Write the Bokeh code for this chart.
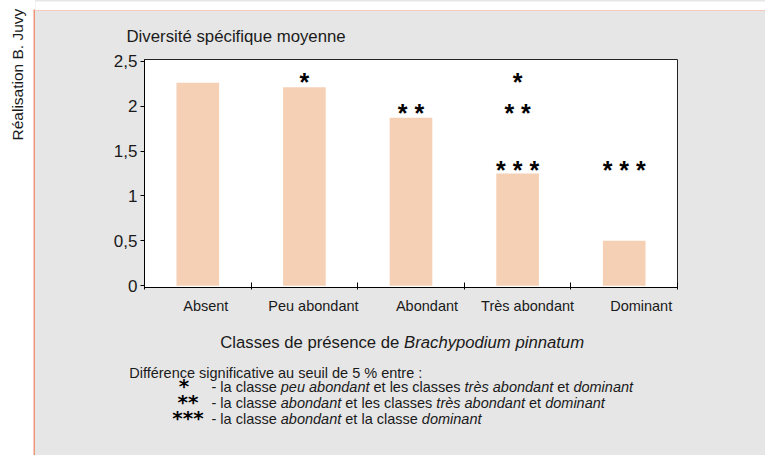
import math
from bokeh.plotting import figure
from bokeh.layouts import row, column
from bokeh.models import Range1d, FixedTicker, ColumnDataSource
from bokeh.embed import file_html
from bokeh.resources import INLINE
from bokeh.core.properties import value, field

# ---------------- data ----------------
categories = ["Absent", "Peu abondant", "Abondant", "Très abondant", "Dominant"]
diversity = [2.26, 2.21, 1.87, 1.25, 0.50]
y_ticks = [0, 0.5, 1, 1.5, 2, 2.5]
y_tick_labels = ["0", "0,5", "1", "1,5", "2", "2,5"]

# significance marks above the bars
sig_class = ["Peu abondant", "Abondant", "Très abondant", "Très abondant", "Très abondant", "Dominant"]
sig_marks = ["*", "* *", "*", "* *", "* * *", "* * *"]
sig_level = [2.30, 1.96, 2.30, 1.96, 1.32, 1.32]

title_text = "Diversité spécifique moyenne"
xlabel_runs = [("Classes de présence de ", "normal"), ("Brachypodium pinnatum", "italic")]
credit_text = "Réalisation B. Juvy"
legend_heading = "Différence significative au seuil de 5 % entre :"
legend_marks = ["*", "**", "***"]
legend_lines = [
    [("- la classe ", "normal"), ("peu abondant", "italic"), (" et les classes ", "normal"),
     ("très abondant", "italic"), (" et ", "normal"), ("dominant", "italic")],
    [("- la classe ", "normal"), ("abondant", "italic"), (" et les classes ", "normal"),
     ("très abondant", "italic"), (" et ", "normal"), ("dominant", "italic")],
    [("- la classe ", "normal"), ("abondant", "italic"), (" et la classe ", "normal"),
     ("dominant", "italic")],
]

# ---------------- layout / style ----------------
PAGE_W, PAGE_H = 765, 455
LEFT_W = 35          # white strip + orange edge on the left
TOP_H = 11           # white strip + orange edge on top
CHART_H = 309        # chart figure height (page y 11 .. 320)
MAIN_W = PAGE_W - LEFT_W
LOW_H = PAGE_H - TOP_H - CHART_H
FL, FR, FT, FB = 109, 88, 46, 33   # chart frame: page x 144..677, y 57..287
GREY = "#e6e6e6"
ORANGE = "#ee9776"
BAR = "#f6d0b5"
INK = "#1a1a1a"
FONT = "Liberation Sans"
STAR_FONT = "DejaVu Sans"
label_nudge_px = [8, 9, 16, 10, 17]
cat_px = (MAIN_W - FL - FR) / len(categories)

# Liberation Sans (Arial metrics) advance widths /1000 em
ADV = {' ': 278, '-': 333, ':': 278, '%': 889, '5': 556, 'a': 556, 'b': 556, 'c': 500,
       'd': 556, 'e': 556, 'é': 556, 'è': 556, 'f': 278, 'g': 556, 'h': 556, 'i': 222,
       'l': 222, 'm': 833, 'n': 556, 'o': 556, 'p': 556, 'q': 556, 'r': 333, 's': 500,
       't': 278, 'u': 556, 'v': 500, 'y': 500, 'B': 667, 'C': 722, 'D': 722}


def tw(s, size):
    return sum(ADV.get(ch, 556) for ch in s) / 1000.0 * size


def no_align(f):
    try:
        f.frame_align = False
    except Exception:
        pass


def blank(w, h, x0, x1, y0, y1, bg):
    """Decoration figure whose frame fills the canvas; data units = page pixels."""
    f = figure(width=w, height=h, x_range=Range1d(x0, x1), y_range=Range1d(y1, y0),
               output_backend="svg", toolbar_location=None, tools="",
               x_axis_type=None, y_axis_type=None, min_border=0)
    f.min_border_left = f.min_border_right = f.min_border_top = f.min_border_bottom = 0
    f.border_fill_color = bg
    f.background_fill_color = bg
    f.outline_line_color = None
    f.xgrid.visible = False
    f.ygrid.visible = False
    no_align(f)
    return f


# ---------- left strip: credit + orange edge ----------
left = blank(LEFT_W, PAGE_H, 0, LEFT_W, 0, PAGE_H, "white")
left.quad(left=[33], right=[LEFT_W + 1], top=[9], bottom=[PAGE_H + 1], fill_color=ORANGE,
          line_color=None)
left.quad(left=[35], right=[LEFT_W + 1], top=[11], bottom=[PAGE_H + 1], fill_color=GREY,
          line_color=None)
left.text(x=[17], y=[140], text=[credit_text], angle=math.pi / 2,
          text_font=value(FONT), text_font_size="15.5px", text_align="left",
          text_baseline="alphabetic", text_color=INK)

# ---------- top strip: orange edge ----------
top = blank(MAIN_W, TOP_H, LEFT_W, PAGE_W, 0, TOP_H, "white")
top.quad(left=[LEFT_W - 1], right=[PAGE_W + 1], top=[9], bottom=[TOP_H + 1], fill_color=ORANGE,
         line_color=None)

# ---------- chart ----------
p = figure(width=MAIN_W, height=CHART_H, x_range=Range1d(0, len(categories)),
           y_range=Range1d(-0.02, 2.52), output_backend="svg", toolbar_location=None, tools="",
           min_border_left=FL, min_border_right=FR, min_border_top=FT, min_border_bottom=FB,
           title=title_text)
no_align(p)
p.border_fill_color = GREY
p.background_fill_color = "white"
p.outline_line_color = "#222222"
p.outline_line_width = 1
p.xgrid.visible = False
p.ygrid.visible = False

p.title.align = "left"
p.title.offset = -18
p.title.standoff = 27
p.title.text_font = FONT
p.title.text_font_style = "normal"
p.title.text_font_size = "16.8px"
p.title.text_color = INK

xs = [i + 0.5 for i in range(len(categories))]
p.vbar(x=xs, top=diversity, bottom=0, width=0.4, fill_color=BAR, line_color=None)

sig_src = ColumnDataSource(dict(x=[categories.index(c) + 0.5 for c in sig_class],
                                y=sig_level, t=sig_marks))
p.text(x="x", y="y", text="t", source=sig_src, text_font=value(FONT),
       text_font_style="bold", text_font_size="25px", text_align="center",
       text_baseline="alphabetic", y_offset=3, text_color="black")

p.yaxis.ticker = FixedTicker(ticks=y_ticks, minor_ticks=[])
p.yaxis.major_label_overrides = {t: l for t, l in zip(y_ticks, y_tick_labels)}
p.yaxis.major_tick_in = 0
p.yaxis.major_tick_out = 4
p.yaxis.major_label_standoff = 3
p.yaxis.axis_line_color = "black"
p.yaxis.major_tick_line_color = "black"
p.yaxis.major_label_text_font = FONT
p.yaxis.major_label_text_font_size = "17px"
p.yaxis.major_label_text_color = INK

label_pos = [x + n / cat_px for x, n in zip(xs, label_nudge_px)]
p.xaxis.ticker = FixedTicker(ticks=label_pos, minor_ticks=list(range(len(categories) + 1)))
p.xaxis.major_label_overrides = {t: c for t, c in zip(label_pos, categories)}
p.xaxis.major_tick_in = 0
p.xaxis.major_tick_out = 0
p.xaxis.minor_tick_in = 5
p.xaxis.minor_tick_out = 2
p.xaxis.minor_tick_line_color = "black"
p.xaxis.axis_line_color = "black"
p.xaxis.major_label_standoff = 8
p.xaxis.major_label_text_font = FONT
p.xaxis.major_label_text_font_size = "14.5px"
p.xaxis.major_label_text_color = INK

# ---------- lower block: axis title + legend ----------
low = blank(MAIN_W, LOW_H, LEFT_W, PAGE_W, TOP_H + CHART_H, PAGE_H, GREY)

rx, ry, rt, rs, rz = [], [], [], [], []


def add_runs(runs, x0, yb, size):
    x = x0
    for txt, style in runs:
        lead = len(txt) - len(txt.lstrip(" "))
        rx.append(x + tw(" " * lead, size))
        ry.append(yb)
        rt.append(txt.strip(" "))
        rs.append(style)
        rz.append(f"{size}px")
        x += tw(txt, size)


add_runs(xlabel_runs, 219.8, 342.3, 16.7)
add_runs([(legend_heading, "normal")], 128.7, 372, 14.5)
line_base = [386.5, 402.0, 418.5]
for runs, yb in zip(legend_lines, line_base):
    add_runs(runs, 211, yb, 14.5)

low.text(x="x", y="y", text="t", source=ColumnDataSource(dict(x=rx, y=ry, t=rt, s=rs, z=rz)),
         text_font=value(FONT), text_font_style=field("s"), text_font_size=field("z"),
         text_align="left", text_baseline="alphabetic", text_color=INK)

mark_cx = [183.5, 187.5, 187.5]
low.text(x=mark_cx, y=[b - 1 for b in line_base], text=legend_marks,
         text_font=value(STAR_FONT), text_font_style="bold", text_font_size="20px",
         text_align="center", text_baseline="alphabetic", text_color="black")

main = column(top, p, low, spacing=0, styles={"background-color": GREY})
layout = row(left, main, spacing=0)
open("out.html", "w").write(file_html(layout, INLINE))
